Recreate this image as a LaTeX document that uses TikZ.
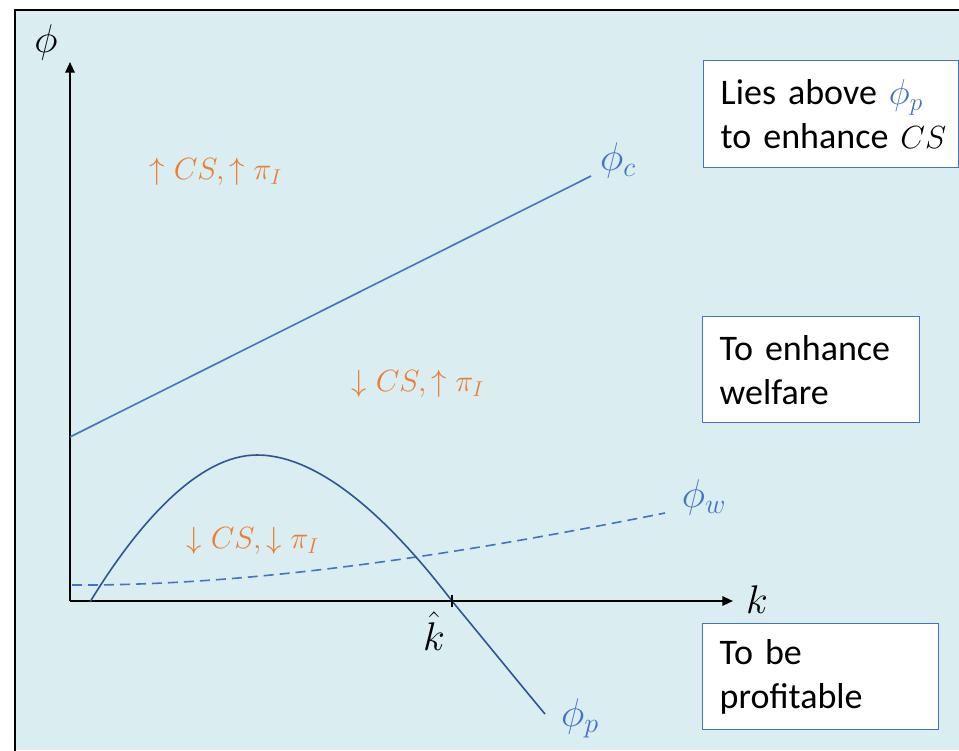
\RequirePackage{fix-cm}
\documentclass[tikz,border=0pt]{standalone}
\usepackage{fontspec}
\setmainfont{Carlito}
\usetikzlibrary{arrows.meta}
\definecolor{bg}{HTML}{DAEDF0}
\definecolor{phiblue}{HTML}{4472C4}
\definecolor{curvedark}{HTML}{2F5597}
\definecolor{orangetxt}{HTML}{ED7D31}
\begin{document}
\begin{tikzpicture}[x=0.75pt,y=-0.75pt,
  axisline/.style={black,line width=1.5pt},
  tip/.style={-{Triangle[length=8pt,width=7pt]}},
  curveline/.style={line width=1.2pt},
  boxnode/.style={draw=phiblue,fill=white,line width=1.1pt,align=left,anchor=north west,
    inner xsep=12.75pt,font=\fontsize{27}{33}\selectfont},
  olab/.style={text=orangetxt,font=\fontsize{23}{27}\selectfont},
  plab/.style={text=phiblue,font=\fontsize{30}{34}\selectfont},
  klab/.style={text=black,font=\fontsize{30}{34}\selectfont}]
\useasboundingbox (0,0) rectangle (959,750);
\fill[white] (0,0) rectangle (959,750);
\fill[bg] (15,10) rectangle (959,750);
% frame
\coordinate (fbl) at (15,751);
\coordinate (ftl) at (15,10);
\coordinate (ftr) at (960,10);
\draw[black,line width=1.5pt] (fbl) -- (ftl) -- (ftr);
% axes
\coordinate (O) at (70,601);
\coordinate (ytop) at (70,62);
\coordinate (xend) at (733,601);
\draw[axisline,tip] (O) -- (ytop);
\draw[axisline,tip] (O) -- (xend);
\node[klab] (philab) at (46,42) {$\phi$};
\node[klab] (klab) at (757,600) {$k$};
% phi_c
\coordinate (c0) at (70,437);
\coordinate (c1) at (591,176);
\draw[phiblue,curveline] (c0) -- (c1);
\node[plab] (phic) at (618,160) {$\phi_c$};
% phi_w
\coordinate (w0) at (72,585);
\coordinate (w1) at (665,513);
\draw[phiblue,curveline,dash pattern=on 7.5pt off 4.5pt] (w0) .. controls (250,586) and (450,556) .. (w1);
\node[plab] (phiw) at (704,497) {$\phi_w$};
% phi_p
\coordinate (p0) at (90,602);
\coordinate (p1) at (257,455);
\coordinate (kh) at (452,601);
\coordinate (p3) at (545,714);
\draw[curvedark,curveline] (p0) .. controls (140,520) and (200,455) .. (p1)
  .. controls (320,455) and (390,520) .. (kh)
  .. controls (485,641) and (515,678) .. (p3);
\node[plab] (phip) at (580,718) {$\phi_p$};
% k hat tick
\draw[black,line width=1pt] (kh) ++(0,-6) -- ++(0,12);
\node[klab] (khat) at (434,631) {$\hat{k}$};
% orange labels
\node[olab] (r1) at (216,172) {$\uparrow CS,\uparrow \pi_I$};
\node[olab] (r2) at (418,384) {$\downarrow CS,\uparrow \pi_I$};
\node[olab] (r3) at (253,541) {$\downarrow CS,\downarrow \pi_I$};
% boxes
\node[boxnode,minimum width=191.25pt,minimum height=80.25pt,text width=165.75pt] (b1) at (703,60)
  {\mbox{Lies above {\color{phiblue}$\phi_p$}}\\\mbox{to enhance {\fontsize{24}{33}\selectfont$CS$}}};
\node[boxnode,minimum width=162.75pt,minimum height=79.5pt,text width=137.25pt] (b2) at (702,316)
  {To enhance\\welfare};
\node[boxnode,minimum width=177pt,minimum height=79.5pt,text width=151.5pt] (b3) at (702,623)
  {To be\\profitable};
\end{tikzpicture}
\end{document}
